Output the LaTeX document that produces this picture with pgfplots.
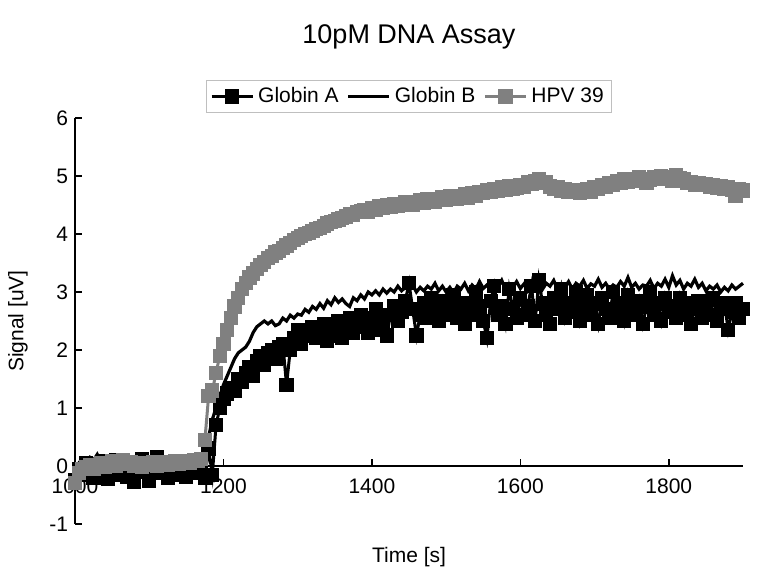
\documentclass[border=0pt]{standalone}
\usepackage{fontspec}
\setmainfont{Liberation Sans}
\usepackage{pgfplots}
\usepackage{pgfplotstable}
\pgfplotsset{compat=1.18}

\definecolor{hpvgray}{RGB}{128,128,128}

% t = time [s], A = Globin A, B = Globin B, H = HPV 39
\pgfplotstableread{
t A B H
1000 -0.25 -0.05 -0.30
1005 -0.05 0.05 -0.12
1010 -0.15 0.12 -0.05
1015 0.05 0.08 -0.02
1020 -0.10 0.15 0.02
1025 -0.20 0.10 -0.05
1030 0.00 0.20 0.00
1035 -0.12 0.08 0.05
1040 0.08 0.14 -0.02
1045 -0.22 0.05 0.04
1050 -0.05 0.18 0.08
1055 0.10 0.12 0.00
1060 -0.15 0.06 0.05
1065 -0.02 0.15 0.10
1070 -0.18 0.10 0.03
1075 0.05 0.04 0.06
1080 -0.28 0.12 0.00
1085 -0.08 0.08 0.04
1090 0.12 0.16 -0.02
1095 -0.10 0.06 0.05
1100 -0.25 0.10 0.02
1105 -0.05 0.14 0.06
1110 0.15 0.05 0.00
1115 -0.12 0.12 0.04
1120 -0.02 0.08 0.07
1125 -0.20 0.15 0.02
1130 0.05 0.10 0.05
1135 -0.10 0.06 0.08
1140 -0.15 0.13 0.03
1145 0.02 0.09 0.06
1150 -0.18 0.16 0.09
1155 -0.05 0.10 0.05
1160 0.10 0.14 0.10
1165 -0.12 0.08 0.08
1170 0.00 0.15 0.12
1175 -0.20 0.20 0.45
1180 0.30 0.50 1.20
1185 -0.15 0.80 1.30
1190 0.70 1.00 1.60
1195 1.00 1.20 1.90
1200 1.15 1.40 2.10
1205 1.25 1.55 2.35
1210 1.35 1.70 2.55
1215 1.30 1.85 2.75
1220 1.50 1.95 2.90
1225 1.45 2.00 3.05
1230 1.60 2.05 3.15
1235 1.70 2.15 3.25
1240 1.55 2.30 3.32
1245 1.80 2.40 3.40
1250 1.90 2.45 3.47
1255 1.75 2.50 3.52
1260 1.95 2.45 3.58
1265 2.00 2.50 3.62
1270 1.85 2.42 3.68
1275 2.05 2.45 3.70
1280 2.10 2.55 3.76
1285 1.40 2.50 3.80
1290 2.00 2.60 3.85
1295 2.20 2.55 3.90
1300 2.35 2.62 3.93
1305 2.10 2.60 3.97
1310 2.30 2.70 4.00
1315 2.25 2.65 4.02
1320 2.40 2.75 4.05
1325 2.20 2.70 4.08
1330 2.30 2.80 4.10
1335 2.45 2.72 4.14
1340 2.15 2.85 4.18
1345 2.30 2.78 4.20
1350 2.25 2.90 4.22
1355 2.50 2.82 4.25
1360 2.20 2.88 4.28
1365 2.35 2.80 4.30
1370 2.55 2.75 4.35
1375 2.30 2.90 4.33
1380 2.40 2.85 4.38
1385 2.60 2.95 4.40
1390 2.45 2.88 4.42
1395 2.30 3.00 4.38
1400 2.55 2.95 4.45
1405 2.70 3.02 4.42
1410 2.35 2.95 4.48
1415 2.50 3.05 4.45
1420 2.25 2.98 4.50
1425 2.60 3.05 4.47
1430 2.75 3.00 4.52
1435 2.50 3.10 4.48
1440 2.65 3.02 4.50
1445 2.85 3.08 4.55
1450 3.15 3.05 4.52
1455 2.70 3.12 4.50
1460 2.25 3.00 4.55
1465 2.60 3.08 4.58
1470 2.80 3.02 4.53
1475 2.55 3.10 4.60
1480 2.90 3.05 4.57
1485 2.70 3.15 4.55
1490 2.50 3.02 4.60
1495 2.85 3.10 4.63
1500 2.60 3.00 4.58
1505 2.75 3.08 4.65
1510 2.95 2.98 4.62
1515 2.55 3.10 4.60
1520 2.70 3.05 4.65
1525 2.45 3.15 4.68
1530 2.80 3.02 4.63
1535 2.60 3.12 4.70
1540 3.00 3.05 4.66
1545 2.75 3.18 4.72
1550 2.50 3.06 4.70
1555 2.20 3.12 4.75
1560 2.85 3.03 4.72
1565 3.10 3.15 4.78
1570 2.60 3.08 4.74
1575 2.75 3.20 4.80
1580 2.45 3.05 4.76
1585 3.05 3.12 4.82
1590 2.70 3.08 4.78
1595 2.55 3.18 4.80
1600 2.90 3.06 4.85
1605 2.60 3.14 4.82
1610 2.75 3.02 4.90
1615 3.10 3.12 4.86
1620 2.50 3.08 4.92
1625 3.20 3.20 4.95
1630 2.80 3.05 4.88
1635 2.60 3.15 4.90
1640 2.45 3.10 4.82
1645 2.90 3.20 4.78
1650 2.70 3.05 4.80
1655 3.05 3.12 4.75
1660 2.55 3.08 4.78
1665 2.80 3.18 4.72
1670 2.65 3.05 4.76
1675 3.00 3.15 4.74
1680 2.50 3.10 4.70
1685 2.75 3.20 4.75
1690 2.95 3.06 4.78
1695 2.60 3.14 4.72
1700 2.80 3.10 4.80
1705 2.45 3.22 4.78
1710 2.90 3.08 4.85
1715 2.70 3.15 4.82
1720 2.55 3.05 4.88
1725 3.00 3.12 4.85
1730 2.65 3.08 4.92
1735 2.80 3.18 4.88
1740 2.50 3.10 4.95
1745 2.95 3.25 4.90
1750 2.70 3.08 4.95
1755 2.60 3.15 4.92
1760 2.85 3.05 4.98
1765 2.45 3.12 4.95
1770 2.75 3.10 4.88
1775 3.00 3.20 4.93
1780 2.60 3.06 4.98
1785 2.80 3.15 4.95
1790 2.50 3.10 5.00
1795 2.90 3.22 4.96
1800 2.65 3.08 4.98
1805 2.75 3.28 4.92
1810 2.55 3.12 5.02
1815 2.90 3.20 4.97
1820 2.60 3.05 4.94
1825 2.80 3.15 4.88
1830 2.45 3.10 4.90
1835 2.70 3.22 4.85
1840 2.85 3.08 4.88
1845 2.55 3.15 4.84
1850 2.75 3.02 4.86
1855 2.60 3.10 4.82
1860 2.90 3.05 4.85
1865 2.50 3.12 4.80
1870 2.70 3.00 4.83
1875 2.80 3.08 4.78
1880 2.35 3.02 4.80
1885 2.65 3.12 4.76
1890 2.80 3.05 4.65
1895 2.55 3.10 4.78
1900 2.70 3.15 4.75
}\assay

\begin{document}
\begin{tikzpicture}
\begin{axis}[
    name=ax,
    scale only axis,
    width=334pt, height=203pt,
    xmin=1000, xmax=1900,
    ymin=-1, ymax=6,
    axis x line=middle,
    axis y line=left,
    axis line style={-, line width=0.9pt},
    hide obscured x ticks=false,
    hide obscured y ticks=false,
    xtick={1000,1200,...,1800},
    ytick={-1,0,...,6},
    tick align=inside,
    major tick length=3.5pt,
    tick style={line width=0.8pt, black},
    x tick label style={yshift=-3pt},
    tick label style={font=\fontsize{10.5}{12}\selectfont},
    /pgf/number format/assume math mode=true,
    /pgf/number format/set thousands separator={},
    clip=false,
    legend columns=-1,
    legend style={at={(0.5,1)}, anchor=south, yshift=2.5pt,
        draw=black!25, font=\fontsize{10.5}{12}\selectfont,
        inner xsep=2pt, inner ysep=1.5pt,
        /tikz/every even column/.append style={column sep=2pt}},
    legend image code/.code={
        \draw[mark repeat=2, mark phase=2]
        plot coordinates {(0cm,0cm) (0.36cm,0cm) (0.72cm,0cm)};},
]
\addplot[black, line width=1.5pt, mark=square*, mark size=2.8pt,
    mark options={solid}] table[x=t, y=A] {\assay};
\addlegendentry{Globin A}
\addplot[black, line width=1.6pt, no markers] table[x=t, y=B] {\assay};
\addlegendentry{Globin B}
\addplot[hpvgray, line width=1.5pt, mark=square*, mark size=2.8pt,
    mark options={solid, fill=hpvgray}] table[x=t, y=H] {\assay};
\addlegendentry{HPV 39}
\end{axis}
\node[anchor=base, font=\fontsize{13.5}{15}\selectfont] at ([yshift=37pt]ax.north) {10pM DNA Assay};
\node[font=\fontsize{10.5}{12}\selectfont] at ([yshift=-16.5pt]ax.south) {Time [s]};
\node[rotate=90, font=\fontsize{10.5}{12}\selectfont] at ([xshift=-28.5pt]ax.west) {Signal [uV]};
\pgfresetboundingbox
\path ([shift={(-37.5pt,-30.5pt)}]ax.south west) rectangle ([shift={(11pt,59pt)}]ax.north east);
\end{tikzpicture}
\end{document}
